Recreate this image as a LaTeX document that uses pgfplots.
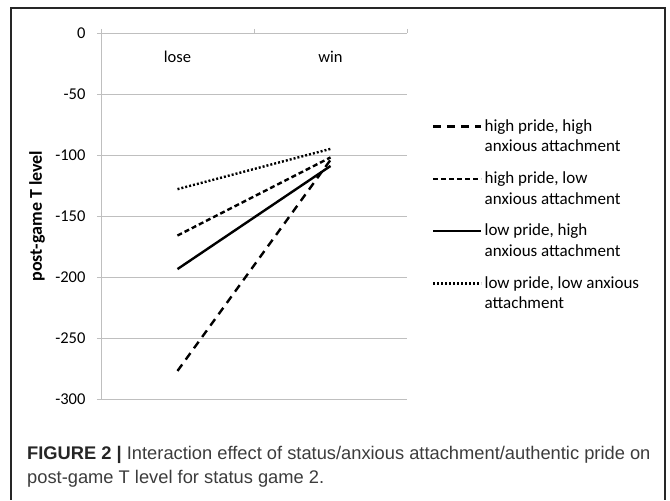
\documentclass[border=0pt]{standalone}
\usepackage{pgfplots}
\pgfplotsset{compat=1.18}
\usepackage{fontspec}
\setmainfont{Carlito}
\newfontfamily\capfont{Liberation Sans}
\definecolor{gridgray}{HTML}{BFBFBF}
\definecolor{captext}{HTML}{3C3C3C}
\begin{document}
\begin{tikzpicture}
\begin{axis}[
  scale only axis, width=306pt, height=366pt,
  xmin=-0.5, xmax=1.5, ymin=-300, ymax=0,
  clip=false,
  axis x line=top, axis y line=left,
  axis line style={gridgray, line width=0.9pt, -},
  ytick={-300,-250,...,0},
  ymajorgrids, grid style={gridgray, line width=0.9pt},
  xtick={-0.5,0.5,1.5}, xticklabels={},
  extra x ticks={0,1}, extra x tick labels={lose,win},
  extra x tick style={major tick length=0pt, xticklabel style={anchor=base, yshift=-29pt}},
  tick align=outside, major tick length=4pt,
  tick style={gridgray, line width=0.9pt},
  ticklabel style={font=\fontsize{16.5}{19}\selectfont},
  yticklabel style={xshift=-8pt},
  /pgf/number format/assume math mode=true,
  ylabel={\textbf{post-game T level}},
  ylabel style={at={(axis description cs:-0.209,0.5)}, anchor=center, font=\fontsize{18}{21}\selectfont},
  legend style={at={(axis description cs:1.072,0.775)}, anchor=north west, draw=none, fill=none,
    font=\fontsize{17}{20.5}\selectfont, cells={anchor=west, align=left}, row sep=14.5pt},
  legend image code/.code={\path[draw=none] (0pt,-10pt) (0pt,10pt); \draw[#1, line width=2.4pt] (0pt,10pt) -- (48pt,10pt);},
]
\addplot[black, line width=2.4pt, dash pattern=on 8pt off 6pt] coordinates {(0,-277) (1,-104)};
\addlegendentry{high pride, high\\anxious attachment}
\addplot[black, line width=2.4pt, dash pattern=on 5pt off 3pt] coordinates {(0,-166) (1,-102)};
\addlegendentry{high pride, low\\anxious attachment}
\addplot[black, line width=2.4pt] coordinates {(0,-193.5) (1,-109)};
\addlegendentry{low pride, high\\anxious attachment}
\addplot[black, line width=2.4pt, dash pattern=on 2pt off 2pt] coordinates {(0,-128) (1,-95)};
\addlegendentry{low pride, low anxious\\attachment}
\coordinate (SW) at (rel axis cs:0,0);
\end{axis}
\begin{scope}[shift={(SW)}, x=1pt, y=1pt]
\path (-101,-101) rectangle (569,399);
\draw[line width=1.4pt, black!85] (-90,-101) -- (-90,391) -- (564,391) -- (564,-101);
\node[anchor=base west, inner sep=0pt, font=\capfont\fontsize{18.3}{22}\selectfont, text=captext] at (-74,-61)
  {\textbf{\color{black!85}FIGURE 2 |} Interaction effect of status/anxious attachment/authentic pride on};
\node[anchor=base west, inner sep=0pt, font=\capfont\fontsize{18.3}{22}\selectfont, text=captext] at (-74,-85)
  {post-game T level for status game 2.};
\end{scope}
\end{tikzpicture}
\end{document}
